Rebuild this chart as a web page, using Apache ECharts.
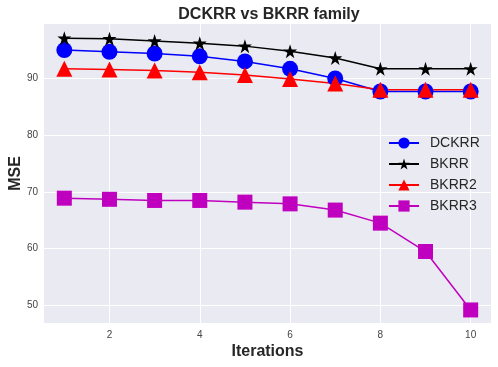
<!DOCTYPE html>
<html><head><meta charset="utf-8">
<script src="https://cdn.jsdelivr.net/npm/echarts@6/dist/echarts.min.js"></script>
<style>html,body{margin:0;padding:0;background:#fff}#c{width:498px;height:367px}</style>
</head><body><div id="c"></div>
<script>
const iterations = [1,2,3,4,5,6,7,8,9,10];
const dckrr = [95.0,94.7,94.4,93.9,93.0,91.7,90.0,87.7,87.7,87.7];
const bkrr  = [97.1,97.0,96.6,96.2,95.7,94.8,93.6,91.7,91.7,91.7];
const bkrr2 = [91.7,91.6,91.4,91.1,90.6,89.9,89.1,88.0,88.0,88.0];
const bkrr3 = [68.9,68.7,68.5,68.5,68.2,67.9,66.8,64.5,59.5,49.2];
const xTicks = [2,4,6,8,10];
const yTicks = [50,60,70,80,90];
const names = ['DCKRR','BKRR','BKRR2','BKRR3'];
const colors = ['#0000ff','#000000','#ff0000','#bf00bf'];
const symbols = ['circle','path://M50,0 L61.8,36.2 L100,36.2 L69.1,58.8 L80.9,95.1 L50,72.7 L19.1,95.1 L30.9,58.8 L0,36.2 L38.2,36.2 Z','triangle','rect'];
const sizes = [16,14,16,15];
const allData = [dckrr,bkrr,bkrr2,bkrr3];
const font = 'Liberation Sans, Arial, sans-serif';
const chart = echarts.init(document.getElementById('c'));
chart.setOption({
  animation:false,
  backgroundColor:'#ffffff',
  title:{text:'DCKRR vs BKRR family',left:264,top:2,textAlign:'center',
    textStyle:{fontFamily:font,fontSize:16,fontWeight:'bold',color:'#262626'}},
  grid:{left:44,right:7,top:24,bottom:44,show:true,backgroundColor:'#eaeaf2',borderWidth:0,
    containLabel:false,outerBoundsMode:'none'},
  legend:{left:388,top:136,orient:'vertical',padding:0,itemWidth:30,itemHeight:14,itemGap:7,
    textStyle:{fontFamily:font,fontSize:14,color:'#262626',padding:[0,0,0,6]},
    data:names},
  xAxis:{type:'value',min:0.55,max:10.45,interval:2,
    name:'Iterations',nameLocation:'middle',nameGap:21,nameMoveOverlap:false,
    nameTextStyle:{fontFamily:font,fontSize:16,fontWeight:'bold',color:'#262626'},
    axisLine:{show:false},axisTick:{show:false,customValues:xTicks},
    axisLabel:{customValues:xTicks,fontFamily:font,fontSize:10,color:'#444',margin:7},
    splitLine:{show:true,lineStyle:{color:'#ffffff',width:1}}},
  yAxis:{type:'value',min:46.9,max:99.6,interval:10,
    name:'MSE',nameLocation:'middle',nameGap:20,nameRotate:90,nameMoveOverlap:false,
    nameTextStyle:{fontFamily:font,fontSize:16,fontWeight:'bold',color:'#262626'},
    axisLine:{show:false},axisTick:{show:false,customValues:yTicks},
    axisLabel:{customValues:yTicks,fontFamily:font,fontSize:10,color:'#444',margin:6},
    splitLine:{show:true,lineStyle:{color:'#ffffff',width:1}}},
  series: names.map((n,i)=>({
    name:n,type:'line',data:iterations.map((x,j)=>[x,allData[i][j]]),
    symbol:symbols[i],symbolSize:sizes[i],showAllSymbol:true,
    lineStyle:{color:colors[i],width:1.5},
    itemStyle:{color:colors[i]}
  }))
});
</script></body></html>
